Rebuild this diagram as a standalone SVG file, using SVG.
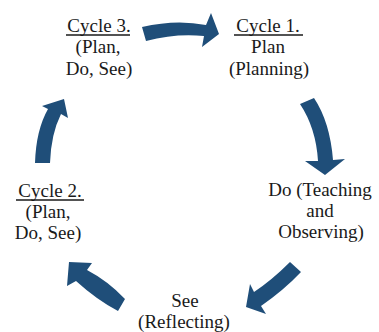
<svg xmlns="http://www.w3.org/2000/svg" width="379" height="332" viewBox="0 0 379 332">
  <style>
    .lbl { font-family: "Liberation Serif", "Times New Roman", serif; font-size: 19px; fill: #1a1a1a; text-anchor: middle; }
    .ul { stroke: #1a1a1a; stroke-width: 1.3; }
    .arrow { fill: #1F4E79; }
  </style>
  <rect width="379" height="332" fill="#ffffff"/>

  <!-- curved block arrows of the cycle -->
  <g id="connectors">
    <path class="arrow" d="M142,27 Q176,19 206,25 L211,13 L219,34 L202,47 L204,36 Q176,33 146,41 Z"/>
    <path class="arrow" d="M300,104 Q316,128 318,161 L305,161 L325,175 L345,159 L333,160 Q330,122 314,98 Z"/>
    <path class="arrow" d="M290,262 Q272,280 254,292 L250,284 L246,307 L266,314 L261,306 Q284,290 301,272 Z"/>
    <path class="arrow" d="M125,299 Q108,281 87,270 L92,263 L69,262 L67,286 L76,281 Q97,300 118,311 Z"/>
    <path class="arrow" d="M35,163 Q36,130 48,109 L42,106 L64,99 L68,118 L61,114 Q51,134 50,163 Z"/>
  </g>

  <g id="cycle3">
    <text class="lbl" x="99" y="32">Cycle 3.</text>
    <line class="ul" x1="66" y1="35" x2="130" y2="35"/>
    <text class="lbl" x="98" y="53">(Plan,</text>
    <text class="lbl" x="99" y="75">Do, See)</text>
  </g>

  <g id="cycle1">
    <text class="lbl" x="268" y="32">Cycle 1.</text>
    <line class="ul" x1="234" y1="35" x2="303" y2="35"/>
    <text class="lbl" x="268" y="53">Plan</text>
    <text class="lbl" x="269" y="75">(Planning)</text>
  </g>

  <g id="do">
    <text class="lbl" x="320" y="196">Do (Teaching</text>
    <text class="lbl" x="320" y="217">and</text>
    <text class="lbl" x="321" y="238">Observing)</text>
  </g>

  <g id="see">
    <text class="lbl" x="185" y="307">See</text>
    <text class="lbl" x="184" y="328">(Reflecting)</text>
  </g>

  <g id="cycle2">
    <text class="lbl" x="50" y="197">Cycle 2.</text>
    <line class="ul" x1="16" y1="200" x2="84" y2="200"/>
    <text class="lbl" x="48" y="218">(Plan,</text>
    <text class="lbl" x="48" y="239">Do, See)</text>
  </g>
</svg>
